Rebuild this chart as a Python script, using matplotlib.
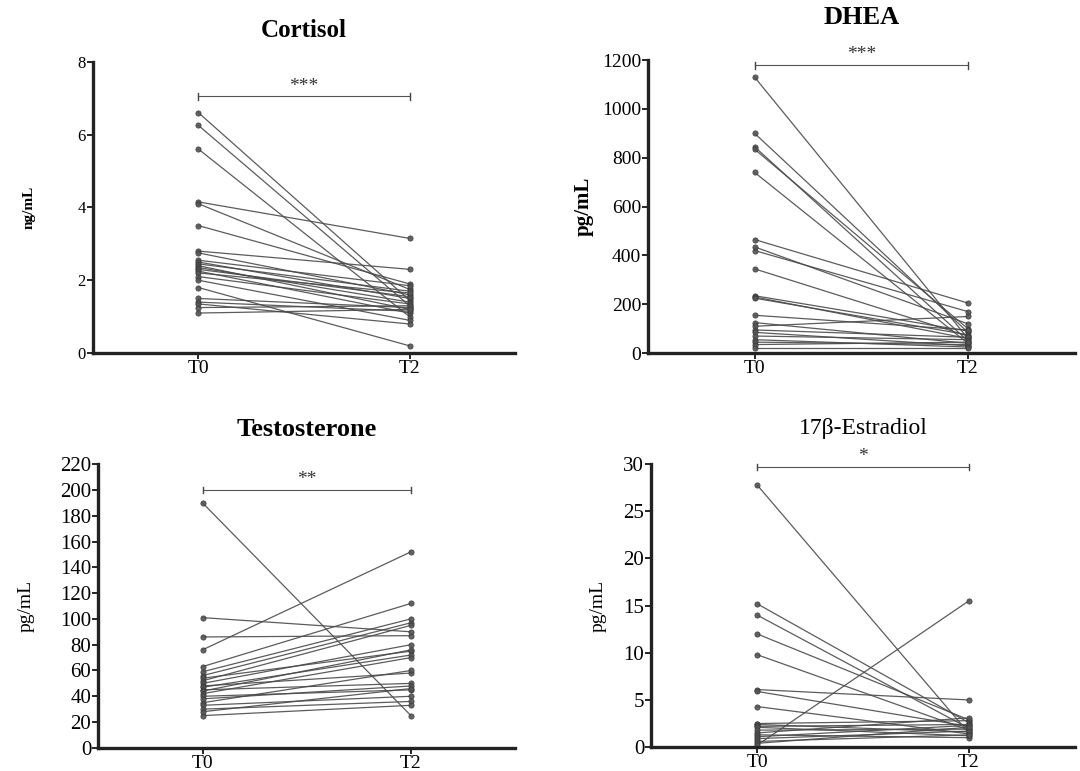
import numpy as np
import matplotlib.pyplot as plt

plt.rcParams['font.family'] = ['Liberation Serif', 'DejaVu Serif']

# paired values, T0 -> T2 per subject
cort_t0 = [6.6, 6.25, 5.6, 4.15, 4.1, 3.5, 2.8, 2.75, 2.55, 2.5, 2.45, 2.4, 2.35,
           2.3, 2.25, 2.2, 2.1, 2.0, 1.8, 1.5, 1.4, 1.35, 1.25, 1.1]
cort_t2 = [1.45, 1.3, 1.0, 3.15, 1.75, 1.9, 2.3, 1.6, 1.85, 1.5, 1.7, 1.2, 1.4,
           1.55, 1.1, 1.65, 1.35, 0.9, 0.2, 1.25, 1.15, 0.8, 1.3, 1.2]

dhea_t0 = [1130, 900, 845, 835, 740, 465, 435, 420, 345, 235, 230, 225, 155,
           125, 110, 95, 85, 70, 55, 45, 35, 20]
dhea_t2 = [60, 85, 50, 100, 40, 205, 120, 170, 70, 90, 60, 75, 95,
           40, 150, 65, 30, 55, 25, 35, 45, 20]

testo_t0 = [190, 101, 86, 76, 63, 59, 56, 54, 52, 50, 48, 47, 45, 44, 42,
            40, 38, 35, 33, 30, 28, 25]
testo_t2 = [25, 90, 87, 152, 112, 100, 97, 75, 95, 80, 58, 72, 50, 76, 70,
            45, 48, 60, 40, 36, 46, 33]

estr_t0 = [27.8, 15.2, 14.0, 12.0, 9.8, 6.1, 5.9, 4.3, 2.5, 2.4, 2.2, 2.1,
           1.8, 1.5, 1.3, 1.1, 0.9, 0.6, 0.4, 0.2]
estr_t2 = [1.5, 2.6, 2.0, 2.9, 1.8, 5.0, 2.2, 1.4, 2.8, 1.6, 2.4, 1.2,
           1.9, 3.1, 1.0, 2.3, 1.7, 1.3, 2.1, 15.5]

time_labels = ['T0', 'T2']

panels = [
    # title, ylabel, t0, t2, ymax, yticks, bracket y, stars, axes rect,
    # title size, title weight, title pad, ytick size, ylabel size, ylabel bold, labelpad
    ('Cortisol', 'ng/mL', cort_t0, cort_t2, 8, np.arange(0, 9, 2), 7.05, '***',
     [0.086, 0.542, 0.391, 0.378], 18, 'bold', 18, 12, 11, True, 30),
    ('DHEA', 'pg/mL', dhea_t0, dhea_t2, 1200, np.arange(0, 1201, 200), 1180, '***',
     [0.600, 0.542, 0.395, 0.380], 19, 'bold', 26, 14, 15, True, 6),
    ('Testosterone', 'pg/mL', testo_t0, testo_t2, 220, np.arange(0, 221, 20), 200, '**',
     [0.091, 0.030, 0.386, 0.368], 19, 'bold', 20, 15, 14, False, 18),
    ('17\u03b2-Estradiol', 'pg/mL', estr_t0, estr_t2, 30, np.arange(0, 31, 5), 29.7, '*',
     [0.603, 0.031, 0.392, 0.367], 17, 'normal', 22, 15, 14, False, 12),
]

fig = plt.figure(figsize=(10.8, 7.71), dpi=100)

for (title, ylab, t0, t2, ymax, yt, by, stars, rect,
     tsize, tweight, tpad, ysize, lsize, lbold, lpad) in panels:
    ax = fig.add_axes(rect)
    for a, b in zip(t0, t2):
        ax.plot([0, 1], [a, b], color='#4a4a4a', lw=0.9, marker='o', ms=3.8,
                mfc='#555555', mec='#333333', mew=0.5, alpha=0.9)
    ax.set_xlim(-0.5, 1.5)
    ax.set_ylim(0, ymax)
    ax.set_yticks(yt)
    ax.set_xticks([0, 1])
    ax.set_xticklabels(time_labels, fontsize=14)
    ax.tick_params(axis='y', labelsize=ysize, length=4, width=1.2, pad=1)
    ax.tick_params(axis='x', length=4, width=1.2, pad=1)
    for s in ['top', 'right']:
        ax.spines[s].set_visible(False)
    for s in ['left', 'bottom']:
        ax.spines[s].set_linewidth(2.4)
        ax.spines[s].set_color('#222222')
    ax.set_ylabel(ylab, fontsize=lsize,
                  fontweight='bold' if lbold else 'normal', labelpad=lpad)
    ax.set_title(title, fontsize=tsize, fontweight=tweight, pad=tpad)

    # significance bracket
    cap = ymax * 0.012
    ax.plot([0, 1], [by, by], color='#555555', lw=0.8, clip_on=False)
    ax.plot([0, 0], [by - cap, by + cap], color='#444444', lw=1, clip_on=False)
    ax.plot([1, 1], [by - cap, by + cap], color='#444444', lw=1, clip_on=False)
    ax.text(0.5, by + ymax * 0.006, stars, ha='center', va='bottom',
            fontsize=14, color='#333333')

fig.savefig('out.png', dpi=100)
